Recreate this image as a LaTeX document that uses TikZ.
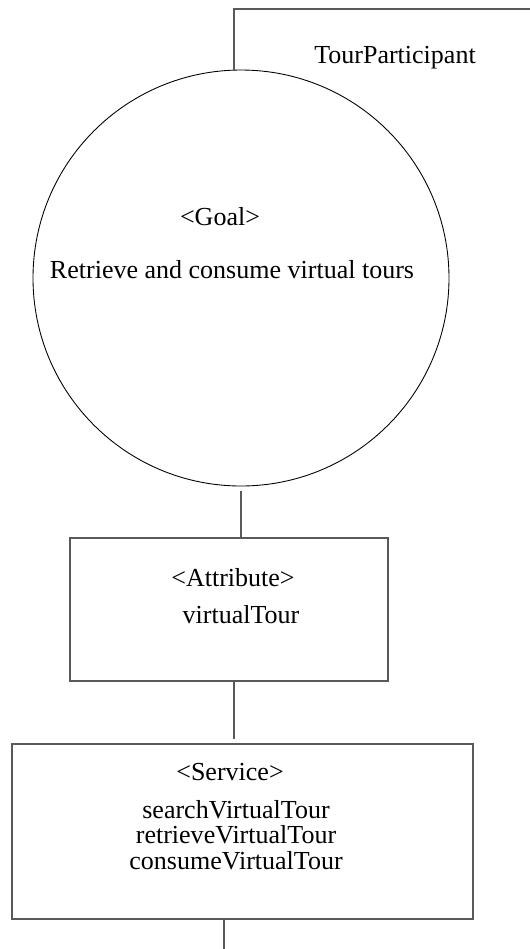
\documentclass[tikz,border=0pt]{standalone}
\usepackage{fontspec}
\setmainfont{Liberation Serif}
\usepackage{tikz}
\usetikzlibrary{positioning,calc}

\begin{document}
\begin{tikzpicture}[
    node font=\fontsize{14.8pt}{14.5pt}\selectfont,
    linkline/.style={black!65,line width=0.6pt},
    boxnode/.style={draw=black!65,line width=0.6pt,rectangle,inner sep=0pt},
    txt/.style={anchor=base,inner sep=0pt}]
  \useasboundingbox (0,0) rectangle (10.6,-18.98);
  % Goal circle
  \node[draw,circle,line width=0.5pt,minimum size=8.32cm,inner sep=0pt] (goal) at (4.82,-5.56) {};
  \node[txt] (goaltag) at (4.40,-4.50) {<Goal>};
  \node[txt] (goaltext) at (4.64,-5.56) {Retrieve and consume virtual tours};
  % Actor
  \node[txt] (actor) at (7.90,-1.26) {TourParticipant};
  \coordinate (actorend) at (10.6,-0.18);
  \draw[linkline] ([xshift=-0.14cm]goal.north) |- (actorend);
  % Attribute box
  \node[boxnode,minimum width=6.36cm,minimum height=2.86cm] (attr) at (4.58,-12.19) {};
  \node[txt] (attrtag) at (4.66,-11.72) {<Attribute>};
  \node[txt] (attrname) at (4.82,-12.46) {virtualTour};
  % Service box
  \node[boxnode,minimum width=9.22cm,minimum height=3.5cm] (serv) at (4.85,-16.63) {};
  \node[txt] (servtag) at (4.60,-15.60) {<Service>};
  \node[txt,align=center] (servlist) at (4.72,-17.38) {searchVirtualTour\\retrieveVirtualTour\\consumeVirtualTour};
  % Links
  \draw[linkline] ([yshift=-0.1cm]goal.south) -- (goal.south |- attr.north);
  \draw[linkline] ([xshift=0.1cm]attr.south) -- ++(0,-1.14);
  \draw[linkline] ([xshift=-0.37cm]serv.south) -- ++(0,-0.6);
\end{tikzpicture}
\end{document}
